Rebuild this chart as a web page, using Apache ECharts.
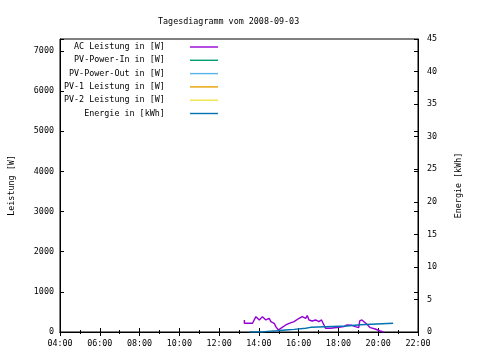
<!DOCTYPE html>
<html><head><meta charset="utf-8">
<script src="https://cdn.jsdelivr.net/npm/echarts@6/dist/echarts.min.js"></script>
<style>html,body{margin:0;padding:0;background:#fff}#c{width:480px;height:360px}</style>
</head><body><div id="c"></div>
<script>
const seriesNames = ['AC Leistung in [W]','PV-Power-In in [W]','PV-Power-Out in [W]','PV-1 Leistung in [W]','PV-2 Leistung in [W]','Energie in [kWh]'];
const seriesColors = ['#9400d3','#009e73','#56b4e9','#e69f00','#f0e442','#0072b2'];
const xTickHours = [4,6,8,10,12,14,16,18,20,22];
// AC power (hours, W)
const acTimes = [13.27,13.27,13.68,13.85,14.02,14.18,14.35,14.52,14.6,14.77,14.85,14.98,15.1,15.18,15.35,15.52,15.77,16.02,16.18,16.35,16.43,16.52,16.68,16.85,17.02,17.15,17.27,17.35,17.6,18.02,18.27,18.43,18.68,18.85,19.02,19.07,19.18,19.27,19.43,19.6,19.85,20.1,20.27];
const acWatts = [300,217,217,383,300,383,300,342,258,217,133,50,92,133,175,217,258,342,383,342,408,300,275,300,258,300,175,92,92,117,133,175,167,133,108,275,300,258,192,108,75,25,0];
// Energy (hours, kWh)
const enTimes = [13.52,14.18,14.43,14.93,15.35,15.77,16.35,16.6,18.43,19.1,20.75];
const enKWh = [0,0.1,0.2,0.3,0.4,0.57,0.72,0.92,1.12,1.34,1.34];

const FONT = 'DejaVu Sans Mono';
const pair = (t, v) => t.map((x, i) => [x, v[i]]);
const fmtH = v => (v < 10 ? '0' : '') + v + ':00';

const series = seriesNames.map((n, i) => ({
  name: n, type: 'line', showSymbol: false, symbol: 'none',
  color: seriesColors[i],
  lineStyle: {width: 1.4, color: seriesColors[i]}, itemStyle: {color: seriesColors[i]},
  xAxisIndex: 0, yAxisIndex: i === 5 ? 1 : 0,
  data: i === 0 ? pair(acTimes, acWatts) : (i === 5 ? pair(enTimes, enKWh) : []),
  step: i === 5 ? 'end' : false, animation: false
}));

const chart = echarts.init(document.getElementById('c'));
chart.setOption({
  animation: false,
  color: seriesColors,
  backgroundColor: '#fff',
  title: {text: 'Tagesdiagramm vom 2008-09-03', left: 153, top: 13,
    textStyle: {fontFamily: FONT, fontSize: 8.4, fontWeight: 'normal', color: '#000'}},
  grid: {left: 58, right: 62, top: 39, bottom: 28, show: true, borderColor: '#000', borderWidth: 1},
  legend: {orient: 'vertical', left: 60, top: 42, padding: 0, align: 'right', itemGap: 3.3,
    itemWidth: 28, itemHeight: 1.4, icon: 'rect',
    data: seriesNames.map((n, i) => ({name: n, itemStyle: {color: seriesColors[i]}})),
    formatter: n => n + '    ',
    textStyle: {fontFamily: FONT, fontSize: 8.4, color: '#000', width: 125, lineHeight: 10}},
  xAxis: [{type: 'value', min: 4, max: 22, interval: 2,
    axisLine: {lineStyle: {color: '#000'}},
    axisTick: {inside: true, length: 4, lineStyle: {color: '#000'}},
    minorTick: {show: true, splitNumber: 2, length: 2, lineStyle: {color: '#000'}},
    splitLine: {show: false},
    axisLabel: {formatter: v => xTickHours.includes(v) ? fmtH(v) : '', fontFamily: FONT, fontSize: 8.4, color: '#000', margin: 8}},
    {type: 'value', min: 4, max: 22, interval: 2, position: 'top',
    axisLine: {lineStyle: {color: '#000'}},
    axisTick: {inside: true, length: 4, lineStyle: {color: '#000'}},
    minorTick: {show: true, splitNumber: 2, length: 2, lineStyle: {color: '#000'}},
    splitLine: {show: false}, axisLabel: {show: false}}],
  yAxis: [{type: 'value', min: 0, max: 7300, interval: 1000, position: 'left',
    name: 'Leistung [W]', nameLocation: 'middle', nameRotate: 90, nameGap: 44,
    nameTextStyle: {fontFamily: FONT, fontSize: 8.4, color: '#000'},
    axisLine: {show: true, lineStyle: {color: '#000'}},
    axisTick: {show: true, inside: true, length: 4, lineStyle: {color: '#000'}},
    splitLine: {show: false},
    axisLabel: {formatter: v => v % 1000 === 0 ? String(v) : '', fontFamily: FONT, fontSize: 8.4, color: '#000', margin: 6}},
    {type: 'value', min: 0, max: 45, interval: 5, position: 'right',
    name: 'Energie [kWh]', nameLocation: 'middle', nameRotate: 90, nameGap: 37,
    nameTextStyle: {fontFamily: FONT, fontSize: 8.4, color: '#000'},
    axisLine: {show: true, lineStyle: {color: '#000'}},
    axisTick: {show: true, inside: true, length: 4, lineStyle: {color: '#000'}},
    splitLine: {show: false},
    axisLabel: {fontFamily: FONT, fontSize: 8.4, color: '#000', margin: 9}},
    {type: 'value', min: 0, max: 7300, interval: 1000, position: 'right',
    axisLine: {show: false},
    axisTick: {show: true, inside: true, length: 4, lineStyle: {color: '#000'}},
    splitLine: {show: false}, axisLabel: {show: false}}],
  series: series
});
</script></body></html>
